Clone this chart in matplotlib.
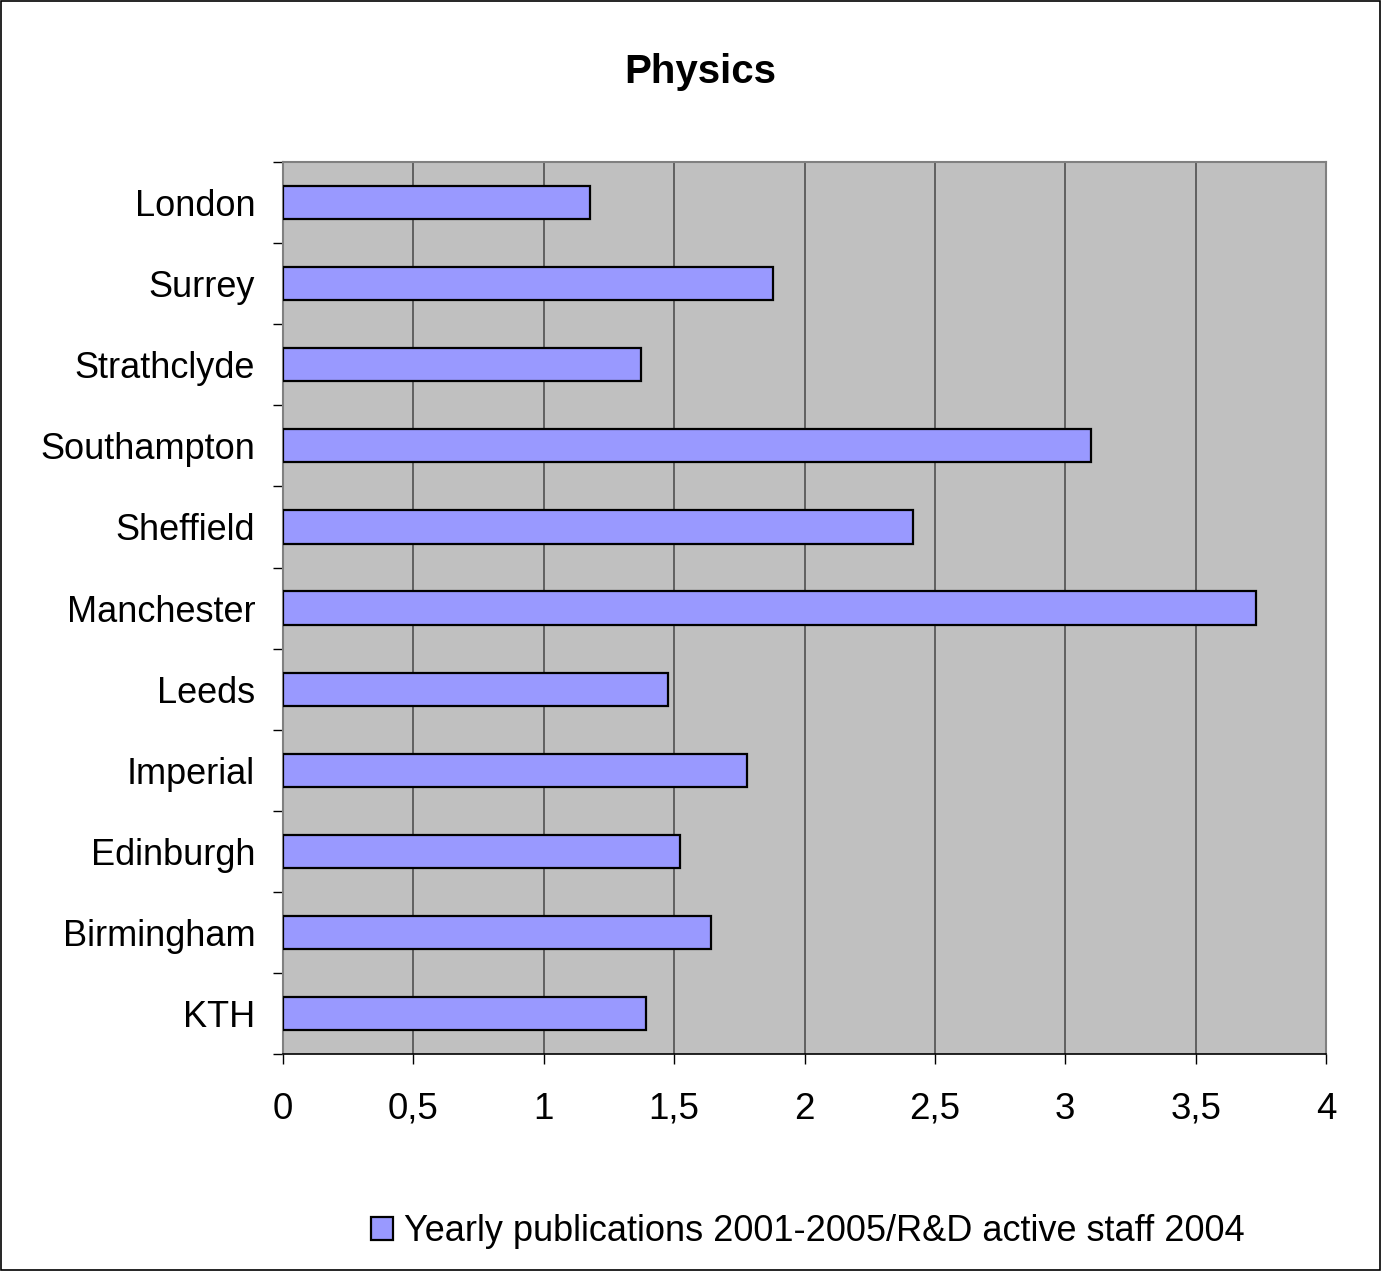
import matplotlib
matplotlib.use('Agg')
import matplotlib.pyplot as plt
from matplotlib.ticker import FixedLocator, FuncFormatter
from matplotlib.patches import Rectangle
import numpy as np

plt.rcParams['font.family'] = ['Liberation Sans', 'DejaVu Sans']

# data, top to bottom as in the chart
universities = ['London', 'Surrey', 'Strathclyde', 'Southampton', 'Sheffield',
                'Manchester', 'Leeds', 'Imperial', 'Edinburgh', 'Birmingham', 'KTH']
pubs_per_staff = [1.176, 1.879, 1.372, 3.097, 2.417, 3.731, 1.475, 1.779, 1.522, 1.641, 1.391]
series_label = 'Yearly publications 2001-2005/R&D active staff 2004'
chart_title = 'Physics'

fig = plt.figure(figsize=[13.81, 12.71], dpi=100)
ax = fig.add_axes([0.2049, 0.1707, 0.7553, 0.7018])
ax.set_facecolor('#C0C0C0')

pos = np.arange(len(universities))
ax.barh(pos, pubs_per_staff, height=0.41, color='#9999FF', edgecolor='black',
        linewidth=1.6, label=series_label, zorder=3)
ax.set_ylim(len(universities) - 0.5, -0.5)
ax.set_xlim(0, 4)

# x axis
ax.set_xticks(np.arange(0, 4.01, 0.5))
ax.xaxis.set_major_formatter(FuncFormatter(lambda v, p: ('%g' % v).replace('.', ',')))
ax.tick_params(axis='x', direction='out', length=7, width=1, pad=20, labelsize=26.5)
ax.grid(axis='x', color='#505050', linewidth=1.2, zorder=1)

# y axis: labels on bars, ticks at category boundaries
ax.set_yticks(pos)
ax.set_yticklabels(universities)
ax.tick_params(axis='y', which='major', length=0, pad=20, labelsize=26)
ax.yaxis.set_minor_locator(FixedLocator(np.arange(-0.5, len(universities), 1)))
ax.tick_params(axis='y', which='minor', direction='out', length=7, width=1)

for s in ['top', 'right', 'left']:
    ax.spines[s].set_color('#808080')
    ax.spines[s].set_linewidth(1.5)
ax.spines['bottom'].set_color('black')
ax.spines['bottom'].set_linewidth(1.2)

fig.text(0.507, 0.943, chart_title, ha='center', va='center', fontsize=29, fontweight='bold')

fig.legend(loc='center', bbox_to_anchor=(0.585, 0.031), frameon=False, fontsize=26,
           handlelength=0.6, handleheight=0.6, handletextpad=0.3)

# outer border around the whole chart
fig.patches.append(Rectangle((0.0005, 0.0005), 0.999, 0.999, transform=fig.transFigure,
                             fill=False, edgecolor='black', linewidth=1.2))

plt.savefig('out.png', dpi=100)
